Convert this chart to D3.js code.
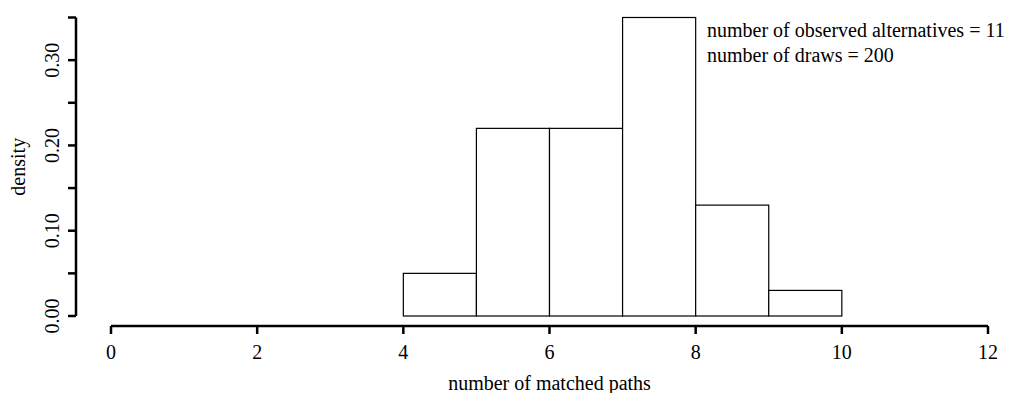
<!DOCTYPE html>
<html>
<head>
<meta charset="utf-8">
<script src="https://cdn.jsdelivr.net/npm/d3@7"></script>
<style>
  body { margin: 0; background: #fff; }
  text { font-family: "Liberation Serif", "Times New Roman", serif; fill: #000; }
</style>
</head>
<body>
<div id="chart"></div>
<script>
// histogram bins (number of matched paths) and density
const binStart = [4, 5, 6, 7, 8, 9];
const binEnd = [5, 6, 7, 8, 9, 10];
const density = [0.05, 0.22, 0.22, 0.35, 0.13, 0.03];
const xTicks = [0, 2, 4, 6, 8, 10, 12];
const yTicks = [0, 0.05, 0.10, 0.15, 0.20, 0.25, 0.30, 0.35];
const yLabelTicks = [0, 0.10, 0.20, 0.30];
const notes = ['number of observed alternatives = 11', 'number of draws = 200'];

const width = 1013, height = 393;

const svg = d3.select('#chart').append('svg')
    .attr('width', width)
    .attr('height', height);

const x = d3.scaleLinear().domain([0, 12]).range([111, 988]);
const y = d3.scaleLinear().domain([0, 0.35]).range([316, 17.5]);

// bars
svg.selectAll('.bar')
    .data(density)
    .enter()
    .append('rect')
    .attr('class', 'bar')
    .attr('x', (d, i) => x(binStart[i]))
    .attr('y', d => y(d))
    .attr('width', (d, i) => x(binEnd[i]) - x(binStart[i]))
    .attr('height', d => y(0) - y(d))
    .style('fill', 'white')
    .style('stroke', '#000')
    .style('stroke-width', 1.2);

// x axis
const xAxis = svg.append('g').attr('transform', 'translate(0,326)');
xAxis.append('line')
    .attr('x1', x(0)).attr('x2', x(12))
    .style('stroke', '#000').style('stroke-width', 2.5);
xAxis.selectAll('.xtick')
    .data(xTicks)
    .enter()
    .append('line')
    .attr('x1', d => x(d)).attr('x2', d => x(d))
    .attr('y1', 0).attr('y2', 8)
    .style('stroke', '#000').style('stroke-width', 2.5);
xAxis.selectAll('.xlab')
    .data(xTicks)
    .enter()
    .append('text')
    .attr('x', d => x(d))
    .attr('y', 33)
    .attr('text-anchor', 'middle')
    .style('font-size', '20px')
    .text(d => d);

svg.append('text')
    .attr('x', (x(0) + x(12)) / 2)
    .attr('y', 390)
    .attr('text-anchor', 'middle')
    .style('font-size', '20px')
    .text('number of matched paths');

// y axis
const yAxis = svg.append('g').attr('transform', 'translate(76,0)');
yAxis.append('line')
    .attr('y1', y(0)).attr('y2', y(0.35))
    .style('stroke', '#000').style('stroke-width', 2.5);
yAxis.selectAll('.ytick')
    .data(yTicks)
    .enter()
    .append('line')
    .attr('x1', 0).attr('x2', -8)
    .attr('y1', d => y(d)).attr('y2', d => y(d))
    .style('stroke', '#000').style('stroke-width', 2.5);
yAxis.selectAll('.ylab')
    .data(yLabelTicks)
    .enter()
    .append('text')
    .attr('transform', d => `translate(-17,${y(d)}) rotate(-90)`)
    .attr('text-anchor', 'middle')
    .style('font-size', '20px')
    .text(d => d3.format('.2f')(d));

svg.append('text')
    .attr('transform', `translate(25,${(y(0) + y(0.35)) / 2}) rotate(-90)`)
    .attr('text-anchor', 'middle')
    .style('font-size', '20px')
    .text('density');

// annotation
svg.selectAll('.note')
    .data(notes)
    .enter()
    .append('text')
    .attr('x', 707)
    .attr('y', (d, i) => 37 + i * 25)
    .style('font-size', '20px')
    .text(d => d);
</script>
</body>
</html>
